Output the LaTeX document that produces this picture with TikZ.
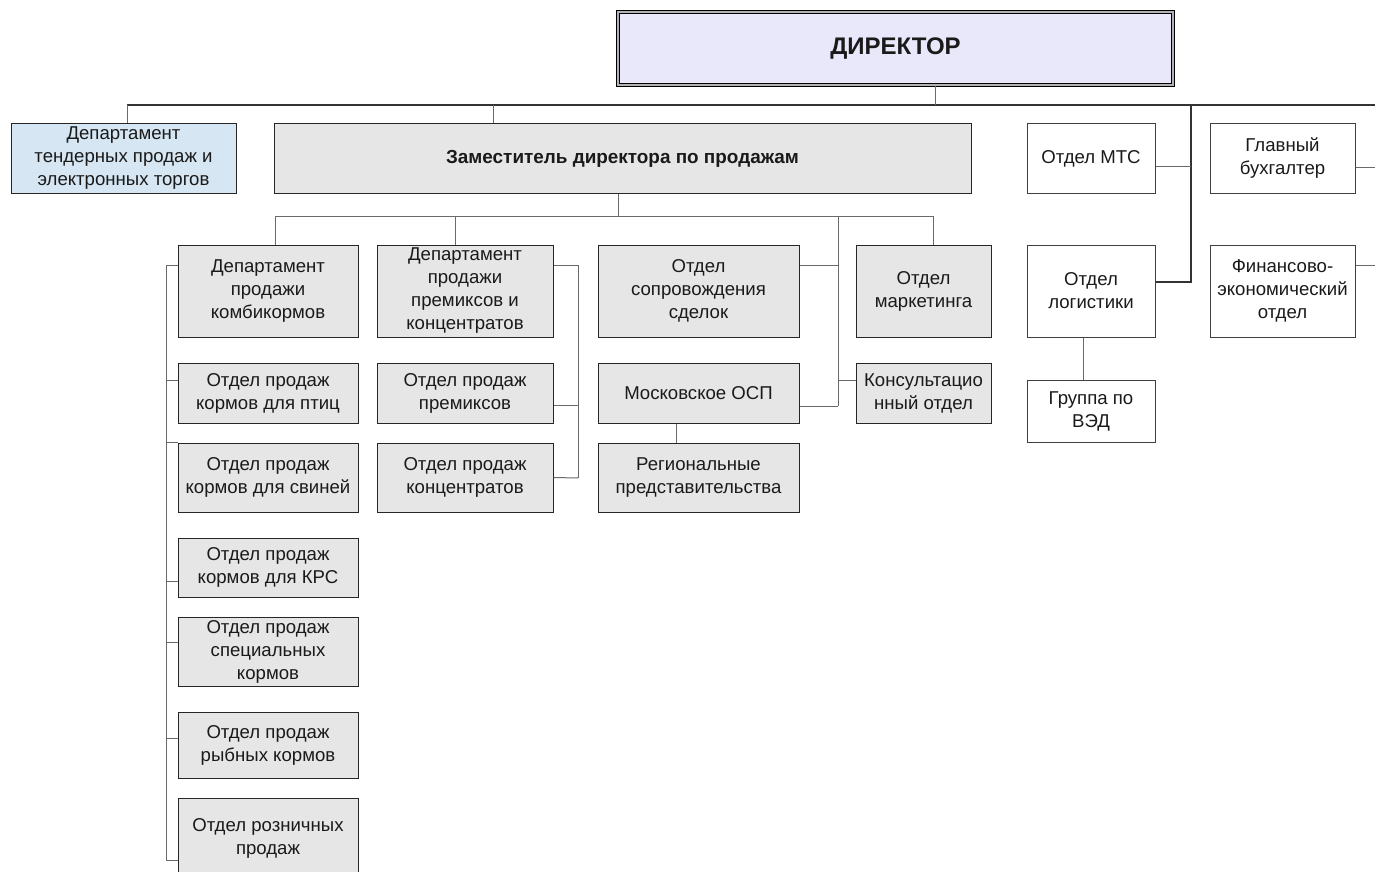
\documentclass[tikz,border=0pt]{standalone}
\usepackage{fontspec}
\setmainfont{Liberation Sans}
\usetikzlibrary{calc}
\definecolor{boxgray}{HTML}{E6E6E6}
\definecolor{tenderblue}{HTML}{D6E7F3}
\definecolor{dirfill}{HTML}{E9E8FA}
\definecolor{txt}{HTML}{1A1A1A}
\definecolor{connc}{HTML}{6A6A6A}
\tikzset{
  box/.style={draw=black!85, line width=1pt, fill=boxgray, align=center, inner sep=1pt,
              font=\fontsize{18.6}{23}\selectfont, text=txt},
  wbox/.style={box, fill=white, draw=black!75},
  conn/.style={draw=connc, line width=1pt},
  topline/.style={draw=black!80, line width=1.1pt},
}
\begin{document}
\begin{tikzpicture}[x=1pt,y=-1pt]
\useasboundingbox (0,0) rectangle (1375,872);
\clip (0,0) rectangle (1375,872);
\fill[white] (0,0) rectangle (1375,872);

% director
\node[draw=black, line width=1.2pt, double=gray!60, double distance=1.4pt, fill=dirfill,
      minimum width=555pt, minimum height=73pt, font=\bfseries\fontsize{24}{28}\selectfont, text=txt]
      (dir) at (895.5,48.5) {ДИРЕКТОР};

% level 1
\node[box, fill=tenderblue, minimum width=225pt, minimum height=69pt] (tender) at (123.5,158.5)
  {Департамент\\тендерных продаж и\\электронных торгов};
\node[box, minimum width=697pt, minimum height=69pt, font=\bfseries\fontsize{18.9}{23}\selectfont] (dep) at (622.5,158.5)
  {Заместитель директора по продажам};
\node[wbox, minimum width=128pt, minimum height=69pt] (mts) at (1091,158.5) {Отдел МТС};
\node[wbox, minimum width=145pt, minimum height=69pt] (buh) at (1282.5,158.5) {Главный\\бухгалтер};

% level 2
\node[box, minimum width=180pt, minimum height=92pt] (komb) at (268,291) {Департамент\\продажи\\комбикормов};
\node[box, minimum width=176pt, minimum height=92pt] (prem) at (465,291) {Департамент\\продажи\\премиксов и\\концентратов};
\node[box, minimum width=201pt, minimum height=92pt] (sopr) at (698.5,291) {Отдел\\сопровождения\\сделок};
\node[box, minimum width=135pt, minimum height=92pt] (mark) at (923.5,291) {Отдел\\маркетинга};
\node[wbox, minimum width=128pt, minimum height=92pt] (log) at (1091,291) {Отдел\\логистики};
\node[wbox, minimum width=145pt, minimum height=92pt] (fin) at (1282.5,291) {Финансово-\\экономический\\отдел};

% level 3
\node[box, minimum width=180pt, minimum height=60pt] (ptic) at (268,393) {Отдел продаж\\кормов для птиц};
\node[box, minimum width=176pt, minimum height=60pt] (premx) at (465,393) {Отдел продаж\\премиксов};
\node[box, minimum width=201pt, minimum height=60pt] (msk) at (698.5,393) {Московское ОСП};
\node[box, minimum width=135pt, minimum height=60pt] (kons) at (923.5,393) {Консультацио\\нный отдел};
\node[wbox, minimum width=128pt, minimum height=62pt] (ved) at (1091,411) {Группа по\\ВЭД};

\node[box, minimum width=180pt, minimum height=69pt] (svin) at (268,477.5) {Отдел продаж\\кормов для свиней};
\node[box, minimum width=176pt, minimum height=69pt] (konc) at (465,477.5) {Отдел продаж\\концентратов};
\node[box, minimum width=201pt, minimum height=69pt] (reg) at (698.5,477.5) {Региональные\\представительства};

\node[box, minimum width=180pt, minimum height=59pt] (krs) at (268,567.5) {Отдел продаж\\кормов для КРС};
\node[box, minimum width=180pt, minimum height=69pt] (spec) at (268,651.5) {Отдел продаж\\специальных\\кормов};
\node[box, minimum width=180pt, minimum height=66pt] (ryb) at (268,745) {Отдел продаж\\рыбных кормов};
\node[box, minimum width=180pt, minimum height=80pt] (rozn) at (268,838) {Отдел розничных\\продаж};

% ---- connectors ----
\coordinate (tl) at (127,105);
\coordinate (tr) at (1375,105);
\coordinate (dj) at (935,105);
\coordinate (dpt) at (493,105);
\coordinate (rb) at (1191,105);
\draw[topline] (tl) -- (tr);
\draw[conn] (dir.south -| dj) -- (dj);
\draw[conn] (tl) -- (tl |- tender.north);
\draw[conn] (dpt) -- (dpt |- dep.north);
\coordinate (logE) at ($(log.east)+(0,-9)$);
\draw[topline] (rb) |- (logE);
\coordinate (mtsE) at ($(mts.east)+(0,8)$);
\draw[conn] (mtsE) -- (mtsE -| rb);
\coordinate (buhE) at ($(buh.east)+(0,9)$);
\draw[conn] (buhE) -- +(25,0);
\coordinate (finE) at ($(fin.east)+(0,-26)$);
\draw[conn] (finE) -- +(25,0);

% second level bus
\coordinate (b2) at (618,216);
\coordinate (s1) at (275,216);
\coordinate (s2) at (455,216);
\coordinate (s3) at (838,216);
\coordinate (s4) at (933,216);
\draw[conn] (dep.south -| b2) -- (b2);
\draw[conn] (s1) -- (s4);
\draw[conn] (s1) -- (s1 |- komb.north);
\draw[conn] (s2) -- (s2 |- prem.north);
\draw[conn] (s4) -- (s4 |- mark.north);
\coordinate (s3b) at (838,406);
\draw[conn] (s3) -- (s3b);
\coordinate (soprE) at ($(sopr.east)+(0,-26)$);
\draw[conn] (soprE) -- (soprE -| s3);
\coordinate (mskE) at ($(msk.east)+(0,13)$);
\draw[conn] (mskE) -- (s3b);
\coordinate (konsW) at ($(kons.west)+(0,-13)$);
\draw[conn] (konsW) -- (konsW -| s3);

% left bus
\coordinate (lbT) at (166,265);
\coordinate (lbB) at (166,860);
\draw[conn] (lbT) -- (lbB);
\coordinate (kombW) at ($(komb.west)+(0,-26)$);
\draw[conn] (kombW) -- (lbT);
\coordinate (pticW) at ($(ptic.west)+(0,-13)$);
\draw[conn] (pticW) -- (pticW -| lbT);
\draw[conn] (svin.north west) -- (svin.north west -| lbT);
\coordinate (krsW) at ($(krs.west)+(0,13.5)$);
\draw[conn] (krsW) -- (krsW -| lbT);
\coordinate (specW) at ($(spec.west)+(0,-9.5)$);
\draw[conn] (specW) -- (specW -| lbT);
\coordinate (rybW) at ($(ryb.west)+(0,-7)$);
\draw[conn] (rybW) -- (rybW -| lbT);
\coordinate (roznW) at ($(rozn.west)+(0,22)$);
\draw[conn] (roznW) -- (lbB);

% premix bus
\coordinate (pbT) at (578,265);
\coordinate (pbB) at (578,478);
\draw[conn] (pbT) -- (pbB);
\coordinate (premE) at ($(prem.east)+(0,-26)$);
\draw[conn] (premE) -- (pbT);
\coordinate (premxE) at ($(premx.east)+(0,12)$);
\draw[conn] (premxE) -- (premxE -| pbT);
\draw[conn] (konc.east) -- (pbB);

% moscow -> regional
\coordinate (mr) at (676,0);
\draw[conn] (msk.south -| mr) -- (reg.north -| mr);
% logistics -> VED
\coordinate (lv) at (1083,0);
\draw[conn] (log.south -| lv) -- (ved.north -| lv);
\end{tikzpicture}
\end{document}
